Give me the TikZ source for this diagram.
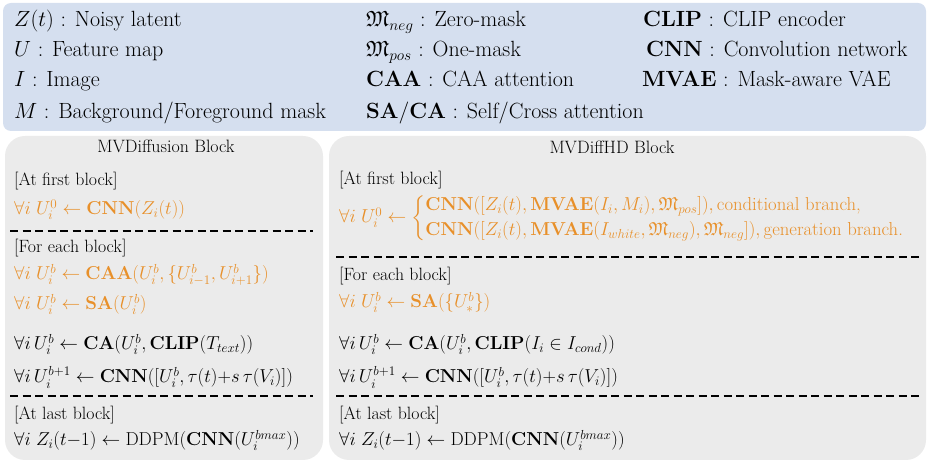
\RequirePackage{fix-cm}
\documentclass[tikz,border=0pt]{standalone}
\usepackage{amsmath,amssymb}
\definecolor{legbg}{HTML}{D5DFEF}
\definecolor{blkbg}{HTML}{EBEBEB}
\definecolor{org}{HTML}{E8902A}
\begin{document}
\begin{tikzpicture}[x=1pt,y=-1pt,
 legtext/.style={anchor=base west, inner sep=0pt, font=\fontsize{22}{26}\selectfont},
 blktext/.style={anchor=base west, inner sep=0pt, font=\fontsize{17.8}{21}\selectfont},
 blkmath/.style={anchor=base west, inner sep=0pt, font=\fontsize{18.7}{22.5}\selectfont},
 blktitle/.style={anchor=base, inner sep=0pt, font=\fontsize{17.9}{21}\selectfont},
 sepline/.style={dash pattern=on 8pt off 4.5pt, line width=1.3pt},
 hl/.style={text=org}]
\useasboundingbox (0,0) rectangle (930,462);
\fill[legbg, rounded corners=8pt] (3,3) rectangle (926,131);
\fill[blkbg, rounded corners=20pt] (5,136) rectangle (323,460);
\fill[blkbg, rounded corners=20pt] (329,136) rectangle (926,460);
% legend
\node[legtext] (a1) at (14,27) {$Z(t)$ : Noisy latent};
\node[legtext] (a2) at (14,57) {$U$ : Feature map};
\node[legtext] (a3) at (14,87) {$I$ : Image};
\node[legtext] (a4) at (14,119) {$M$ : Background/Foreground mask};
\node[legtext] (b1) at (366,27) {$\mathfrak{M}_{neg}$ : Zero-mask};
\node[legtext] (b2) at (366,57) {$\mathfrak{M}_{pos}$ : One-mask};
\node[legtext] (b3) at (366,87) {$\mathbf{CAA}$ : CAA attention};
\node[legtext] (b4) at (366,119) {$\mathbf{SA/CA}$ : Self/Cross attention};
\node[legtext] (c1) at (643,27) {$\mathbf{CLIP}$ : CLIP encoder};
\node[legtext] (c2) at (646,57) {$\mathbf{CNN}$ : Convolution network};
\node[legtext] (c3) at (642,87) {$\mathbf{MVAE}$ : Mask-aware VAE};
% left block
\node[blktitle] (lt) at (166,153) {MVDiffusion Block};
\node[blktext] (l1) at (14,186) {[At first block]};
\node[blkmath,hl] (l2) at (14,215) {$\forall i\; U_i^0 \leftarrow \mathbf{CNN}(Z_i(t))$};
\draw[sepline] (10,231) -- (313,231);
\node[blktext] (l3) at (14,253) {[For each block]};
\node[blkmath,hl] (l4) at (14,280) {$\forall i\; U_i^b \leftarrow \mathbf{CAA}(U_i^b, \{U_{i-1}^b, U_{i+1}^b\})$};
\node[blkmath,hl] (l5) at (14,310) {$\forall i\; U_i^b \leftarrow \mathbf{SA}(U_i^b)$};
\node[blkmath] (l6) at (14,350) {$\forall i\, U_i^b \leftarrow \mathbf{CA}(U_i^b, \mathbf{CLIP}(T_{text}))$};
\node[blkmath] (l7) at (14,383) {$\forall i\, U_i^{b+1} \leftarrow \mathbf{CNN}([U_i^b, \tau(t){+}s\,\tau(V_i)])$};
\draw[sepline] (10,396) -- (313,396);
\node[blktext] (l8) at (14,420) {[At last block]};
\node[blkmath] (l9) at (14,446) {$\forall i\; Z_i(t{-}1) \leftarrow \mathrm{DDPM}(\mathbf{CNN}(U_i^{bmax}))$};
% right block
\node[blktitle] (rt) at (612,154) {MVDiffHD Block};
\node[blktext] (r1) at (339,185) {[At first block]};
\node[blkmath,hl] (r2) at (339,223) {$\forall i\; U_i^0 \leftarrow \renewcommand{\arraystretch}{1.1}\left\{\begin{array}{@{}l@{}}
 \mathbf{CNN}([Z_i(t), \mathbf{MVAE}(I_i, M_i), \mathfrak{M}_{pos}]), \text{conditional branch,}\\
 \mathbf{CNN}([Z_i(t), \mathbf{MVAE}(I_{white}, \mathfrak{M}_{neg}), \mathfrak{M}_{neg}]), \text{generation branch.}
 \end{array}\right.$};
\draw[sepline] (336,257) -- (919,257);
\node[blktext] (r3) at (339,281) {[For each block]};
\node[blkmath,hl] (r4) at (339,308) {$\forall i\; U_i^b \leftarrow \mathbf{SA}(\{U_*^b\})$};
\node[blkmath] (r5) at (339,350) {$\forall i\, U_i^b \leftarrow \mathbf{CA}(U_i^b, \mathbf{CLIP}(I_i \in I_{cond}))$};
\node[blkmath] (r6) at (339,383) {$\forall i\, U_i^{b+1} \leftarrow \mathbf{CNN}([U_i^b, \tau(t){+}s\,\tau(V_i)])$};
\draw[sepline] (336,396) -- (919,396);
\node[blktext] (r7) at (339,420) {[At last block]};
\node[blkmath] (r8) at (339,446) {$\forall i\; Z_i(t{-}1) \leftarrow \mathrm{DDPM}(\mathbf{CNN}(U_i^{bmax}))$};
\end{tikzpicture}
\end{document}
